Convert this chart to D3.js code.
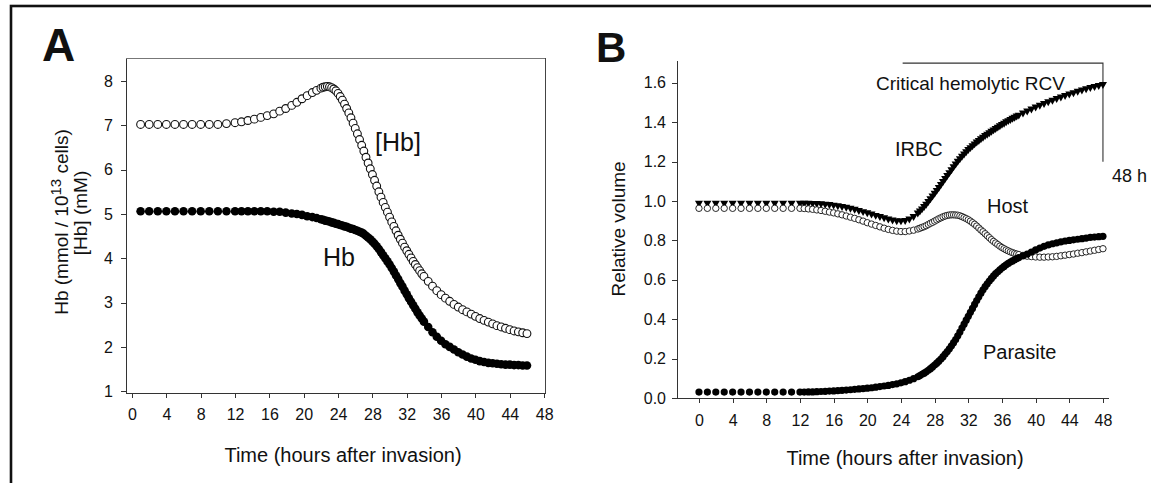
<!DOCTYPE html>
<html>
<head>
<meta charset="utf-8">
<script src="https://cdn.jsdelivr.net/npm/d3@7"></script>
<style>
  body { margin: 0; background: #fff; }
  svg { display: block; font-family: "Liberation Sans", Arial, sans-serif; }
  .axis path, .axis line { stroke: #333; shape-rendering: crispEdges; }
  .axis text { font-size: 16px; fill: #111; font-family: "Liberation Sans", Arial, sans-serif; }
  .label { fill: #111; }
</style>
</head>
<body>
<div id="chart"></div>
<script>
// ---- Panel A: hemoglobin (model output times, hours) ----
const tA = [1,2,3,4,5,6,7,8,9,10,11,12,
  12.75,13.5,14.25,15,15.75,16.5,17.2,17.9,18.6,19.2,19.8,20.4,21,21.5,22,
  22.25,22.5,22.75,23,23.25,23.5,23.75,24,24.25,24.5,24.75,25,25.25,25.5,25.75,26,
  26.25,26.5,26.75,27,27.25,27.5,27.75,28,28.25,28.5,28.75,29,29.25,29.5,29.75,30,
  30.25,30.5,30.75,31,31.25,31.5,31.75,32,32.25,32.5,32.75,33,33.25,33.5,33.75,34,
  34.5,35,35.5,36,36.5,37,37.5,38,38.5,39,39.5,40,40.5,41,41.5,42,42.5,43,43.5,44,44.5,45,45.5,46];

// [Hb] (mM), open circles
const hbConc = [7.02,7.02,7.02,7.02,7.02,7.02,7.02,7.02,7.02,7.02,7.04,7.06,
  7.08,7.11,7.14,7.18,7.22,7.26,7.32,7.38,7.45,7.52,7.6,7.67,7.74,7.79,7.84,
  7.86,7.87,7.88,7.87,7.85,7.82,7.78,7.72,7.65,7.57,7.48,7.38,7.28,7.17,7.05,6.93,
  6.81,6.68,6.55,6.42,6.28,6.15,6.02,5.89,5.76,5.63,5.5,5.38,5.26,5.15,5.04,4.93,
  4.82,4.72,4.62,4.52,4.43,4.34,4.25,4.17,4.09,4.01,3.93,3.86,3.79,3.72,3.65,3.59,
  3.48,3.37,3.27,3.18,3.1,3.03,2.96,2.9,2.84,2.79,2.74,2.69,2.64,2.6,2.56,2.52,2.48,2.45,2.42,2.39,2.36,2.34,2.32,2.3];

// Hb (mmol / 10^13 cells), filled circles
const hbAmount = [5.06,5.06,5.06,5.06,5.06,5.06,5.06,5.06,5.06,5.06,5.06,5.06,
  5.06,5.06,5.06,5.06,5.06,5.05,5.05,5.03,5.01,5.0,4.98,4.95,4.93,4.91,4.88,
  4.87,4.85,4.84,4.83,4.81,4.8,4.78,4.77,4.75,4.74,4.72,4.71,4.69,4.67,4.66,4.64,
  4.62,4.6,4.58,4.55,4.51,4.47,4.43,4.38,4.33,4.27,4.21,4.14,4.07,4.0,3.93,3.86,
  3.78,3.7,3.61,3.53,3.44,3.36,3.27,3.19,3.1,3.02,2.94,2.86,2.78,2.71,2.64,2.57,
  2.45,2.33,2.23,2.14,2.06,2.0,1.94,1.88,1.83,1.78,1.74,1.71,1.68,1.66,1.64,1.63,1.62,1.61,1.6,1.6,1.59,1.59,1.58,1.58];

const ticksA_x = [0,4,8,12,16,20,24,28,32,36,40,44,48];
const ticksA_y = [1,2,3,4,5,6,7,8];

// ---- Panel B: relative volumes ----
const tB = [0,1,2,3,4,5,6,7,8,9,10,11,12,
  12.5,13,13.5,14,14.5,15,15.5,16,16.5,17,17.5,18,18.5,19,19.5,20,20.5,21,21.5,22,22.5,23,23.5,24,24.5,25,25.5,26,
  26.25,26.5,26.75,27,27.25,27.5,27.75,28,28.25,28.5,28.75,29,29.25,29.5,29.75,30,
  30.25,30.5,30.75,31,31.25,31.5,31.75,32,32.25,32.5,32.75,33,33.25,33.5,33.75,34,
  34.25,34.5,34.75,35,35.25,35.5,35.75,36,36.25,36.5,36.75,37,37.25,37.5,37.75,38,
  38.5,39,39.5,40,40.5,41,41.5,42,42.5,43,43.5,44,44.5,45,45.5,46,46.5,47,47.5,48];

const irbc = [0.99,0.99,0.99,0.99,0.99,0.99,0.99,0.99,0.99,0.99,0.99,0.99,0.99,
  0.99,0.99,0.989,0.988,0.987,0.985,0.983,0.98,0.977,0.973,0.969,0.964,0.959,0.953,0.947,0.941,0.935,0.928,0.922,0.916,0.91,0.905,0.901,0.9,0.902,0.91,0.922,0.94,
  0.95,0.961,0.973,0.985,0.998,1.012,1.026,1.04,1.055,1.07,1.085,1.1,1.115,1.13,1.145,1.16,
  1.175,1.189,1.203,1.216,1.228,1.24,1.251,1.262,1.272,1.282,1.291,1.3,1.308,1.317,1.325,1.333,
  1.34,1.348,1.355,1.362,1.369,1.376,1.383,1.39,1.396,1.403,1.409,1.415,1.421,1.426,1.432,1.437,
  1.448,1.458,1.468,1.478,1.487,1.496,1.505,1.513,1.521,1.529,1.537,1.544,1.551,1.558,1.565,1.571,1.577,1.582,1.587,1.592];

const host = [0.963,0.963,0.963,0.963,0.963,0.963,0.963,0.963,0.963,0.963,0.963,0.963,0.963,
  0.962,0.96,0.958,0.955,0.952,0.948,0.944,0.94,0.935,0.93,0.924,0.918,0.912,0.905,0.898,0.89,0.883,0.876,0.869,0.862,0.856,0.851,0.847,0.845,0.845,0.848,0.852,0.858,
  0.862,0.866,0.87,0.875,0.881,0.887,0.892,0.898,0.904,0.91,0.915,0.92,0.924,0.927,0.929,0.93,
  0.93,0.929,0.928,0.925,0.921,0.916,0.911,0.905,0.898,0.89,0.882,0.873,0.863,0.853,0.844,0.834,
  0.824,0.814,0.804,0.795,0.787,0.779,0.771,0.764,0.758,0.752,0.747,0.742,0.738,0.734,0.731,0.728,
  0.724,0.72,0.718,0.716,0.715,0.715,0.716,0.717,0.719,0.722,0.725,0.728,0.731,0.735,0.738,0.742,0.746,0.75,0.754,0.758];

const parasite = [0.03,0.03,0.03,0.03,0.03,0.03,0.03,0.03,0.03,0.03,0.03,0.03,0.03,
  0.03,0.031,0.031,0.032,0.033,0.034,0.035,0.036,0.037,0.039,0.04,0.042,0.044,0.046,0.048,0.05,0.052,0.055,0.058,0.061,0.064,0.068,0.072,0.077,0.083,0.09,0.098,0.108,
  0.114,0.12,0.126,0.133,0.141,0.149,0.158,0.167,0.177,0.187,0.198,0.21,0.223,0.236,0.25,0.265,
  0.281,0.297,0.316,0.335,0.355,0.375,0.395,0.415,0.435,0.455,0.475,0.495,0.514,0.532,0.549,0.565,
  0.58,0.594,0.607,0.62,0.631,0.641,0.651,0.66,0.668,0.676,0.683,0.69,0.696,0.702,0.708,0.713,
  0.722,0.73,0.741,0.752,0.761,0.77,0.777,0.783,0.788,0.793,0.797,0.8,0.803,0.806,0.809,0.812,0.815,0.817,0.819,0.821];

// critical hemolytic RCV marker (hours, relative volume)
const critT = [24.2, 48, 48];
const critV = [1.70, 1.70, 1.20];

const ticksB_x = [0,4,8,12,16,20,24,28,32,36,40,44,48];
const ticksB_y = [0,0.2,0.4,0.6,0.8,1.0,1.2,1.4,1.6];

const zip = (t, v) => t.map((d, i) => ({ t: d, v: v[i] }));

const svg = d3.select('#chart').append('svg')
  .attr('width', 1151)
  .attr('height', 483);

// outer frame
svg.append('rect')
  .attr('x', 11).attr('y', 6)
  .attr('width', 1200).attr('height', 600)
  .attr('fill', 'none').attr('stroke', '#111').attr('stroke-width', 2.6);

// ================= Panel A =================
const xA = d3.scaleLinear().domain([-0.7, 48.1]).range([126, 545]);
const yA = d3.scaleLinear().domain([0.96, 8.52]).range([393, 58]);

// box top / right
svg.append('line').attr('x1', 126).attr('x2', 545).attr('y1', 58.5).attr('y2', 58.5)
  .attr('stroke', '#777').attr('stroke-width', 1.2);
svg.append('line').attr('x1', 545.5).attr('x2', 545.5).attr('y1', 58).attr('y2', 393)
  .attr('stroke', '#444').attr('stroke-width', 1);

svg.append('g')
  .attr('class', 'axis x-axis')
  .attr('transform', 'translate(0,393)')
  .call(d3.axisBottom(xA).tickValues(ticksA_x).tickSize(5).tickSizeOuter(0).tickPadding(11));

svg.append('g')
  .attr('class', 'axis y-axis')
  .attr('transform', 'translate(126,0)')
  .call(d3.axisLeft(yA).tickValues(ticksA_y).tickSize(5).tickSizeOuter(0).tickPadding(8));

svg.append('g').selectAll('circle')
  .data(zip(tA, hbAmount))
  .join('circle')
  .attr('cx', d => xA(d.t))
  .attr('cy', d => yA(d.v))
  .attr('r', 4.3)
  .attr('fill', '#000');

svg.append('g').selectAll('circle')
  .data(zip(tA, hbConc))
  .join('circle')
  .attr('cx', d => xA(d.t))
  .attr('cy', d => yA(d.v))
  .attr('r', 3.9)
  .attr('fill', '#fff')
  .attr('stroke', '#111')
  .attr('stroke-width', 1.1);

svg.append('text').attr('class', 'label')
  .attr('x', 42).attr('y', 61)
  .attr('font-size', 46).attr('font-weight', 'bold')
  .text('A');

svg.append('text').attr('class', 'label')
  .attr('x', 343).attr('y', 462)
  .attr('text-anchor', 'middle').attr('font-size', 20)
  .text('Time (hours after invasion)');

const yTitleA = svg.append('text').attr('class', 'label')
  .attr('transform', 'translate(68,222) rotate(-90)')
  .attr('text-anchor', 'middle').attr('font-size', 19);
yTitleA.append('tspan').text('Hb (mmol / 10');
yTitleA.append('tspan').attr('dy', -7).attr('font-size', 15).text('13');
yTitleA.append('tspan').attr('dy', 7).text(' cells)');

svg.append('text').attr('class', 'label')
  .attr('transform', 'translate(87,213) rotate(-90)')
  .attr('text-anchor', 'middle').attr('font-size', 19)
  .text('[Hb] (mM)');

svg.append('text').attr('class', 'label')
  .attr('x', 375).attr('y', 151).attr('font-size', 25).text('[Hb]');
svg.append('text').attr('class', 'label')
  .attr('x', 323).attr('y', 266).attr('font-size', 25).text('Hb');

// ================= Panel B =================
const xB = d3.scaleLinear().domain([-2.61, 48.6]).range([677, 1108]);
const yB = d3.scaleLinear().domain([0, 1.716]).range([398, 60]);

svg.append('g')
  .attr('class', 'axis x-axis')
  .attr('transform', 'translate(0,398)')
  .call(d3.axisBottom(xB).tickValues(ticksB_x).tickSize(5).tickSizeOuter(0).tickPadding(12));

svg.append('g')
  .attr('class', 'axis y-axis')
  .attr('transform', 'translate(677,0)')
  .call(d3.axisLeft(yB).tickValues(ticksB_y).tickFormat(d3.format('.1f'))
    .tickSize(5).tickSizeOuter(0).tickPadding(6));

// critical hemolytic RCV bracket
svg.append('path')
  .datum(zip(critT, critV))
  .attr('d', d3.line().x(d => xB(d.t)).y(d => yB(d.v)))
  .attr('fill', 'none')
  .attr('stroke', '#333')
  .attr('stroke-width', 1.1);

const tri = d3.symbol().type(d3.symbolTriangle).size(28);
svg.append('g').selectAll('path')
  .data(zip(tB, irbc))
  .join('path')
  .attr('d', tri)
  .attr('transform', d => `translate(${xB(d.t)},${yB(d.v)}) rotate(180)`)
  .attr('fill', '#000');

svg.append('g').selectAll('circle')
  .data(zip(tB, host))
  .join('circle')
  .attr('cx', d => xB(d.t))
  .attr('cy', d => yB(d.v))
  .attr('r', 3.2)
  .attr('fill', '#fff')
  .attr('stroke', '#111')
  .attr('stroke-width', 0.9);

svg.append('g').selectAll('circle')
  .data(zip(tB, parasite))
  .join('circle')
  .attr('cx', d => xB(d.t))
  .attr('cy', d => yB(d.v))
  .attr('r', 3.6)
  .attr('fill', '#000');

svg.append('text').attr('class', 'label')
  .attr('x', 596).attr('y', 62)
  .attr('font-size', 42).attr('font-weight', 'bold')
  .text('B');

svg.append('text').attr('class', 'label')
  .attr('x', 905).attr('y', 465)
  .attr('text-anchor', 'middle').attr('font-size', 20)
  .text('Time (hours after invasion)');

svg.append('text').attr('class', 'label')
  .attr('transform', 'translate(625,229) rotate(-90)')
  .attr('text-anchor', 'middle').attr('font-size', 19)
  .text('Relative volume');

svg.append('text').attr('class', 'label')
  .attr('x', 876).attr('y', 90).attr('font-size', 19).text('Critical hemolytic RCV');
svg.append('text').attr('class', 'label')
  .attr('x', 895).attr('y', 156).attr('font-size', 20).text('IRBC');
svg.append('text').attr('class', 'label')
  .attr('x', 987).attr('y', 213).attr('font-size', 20).text('Host');
svg.append('text').attr('class', 'label')
  .attr('x', 983).attr('y', 359).attr('font-size', 20).text('Parasite');
svg.append('text').attr('class', 'label')
  .attr('x', 1112).attr('y', 182).attr('font-size', 18).text('48 h');
</script>
</body>
</html>
